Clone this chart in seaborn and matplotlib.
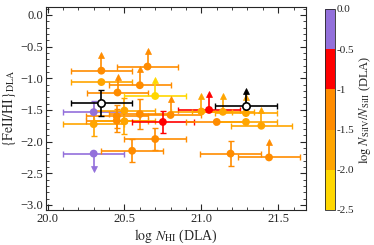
import numpy as np
import pandas as pd
import matplotlib
matplotlib.use("Agg")
import matplotlib.pyplot as plt
import seaborn as sns
from matplotlib.colors import ListedColormap, BoundaryNorm
from matplotlib.ticker import MultipleLocator
import matplotlib.colorbar as mcolorbar

# ---- data ----
log_nhi = [20.35, 20.65, 20.35, 20.60, 20.455, 20.70, 20.30, 20.30, 20.55, 20.70,
           21.19, 21.44, 20.30, 20.45, 20.50, 20.45, 20.50, 20.60, 20.80, 20.75,
           21.05, 21.00, 21.14, 21.10, 21.29, 21.29, 21.39]
feh = [-0.88, -0.815, -1.06, -1.11, -1.225, -1.28, -1.535, -2.19, -2.145, -1.96,
       -2.19, -2.25, -1.725, -1.60, -1.51, -1.67, -1.68, -1.565, -1.58, -1.69,
       -1.50, -1.525, -1.53, -1.69, -1.55, -1.69, -1.75]
xerr = [0.2] * len(log_nhi)
yerr = [0.25, 0.25, 0.0, 0.25, 0.25, 0.25, 0.18, 0.25, 0.18, 0.18,
        0.2, 0.25, 0.19, 0.18, 0.2, 0.18, 0.2, 0.23, 0.25, 0.18,
        0.25, 0.25, 0.25, 0.0, 0.25, 0.0, 0.25]
limit = ["up", "up", "", "up", "up", "up", "", "down", "", "",
         "", "up", "", "", "", "", "", "", "up", "",
         "up", "up", "up", "", "up", "", "up"]
si_ratio = [-1.2, -1.2, -1.7, -1.2, -1.2, -2.2, -0.3, -0.3, -1.2, -1.2,
            -1.2, -1.2, -1.7, -1.2, -1.7, -1.2, -1.7, -1.2, -1.2, -0.7,
            -0.7, -1.7, -1.7, -1.2, -1.7, -1.7, -1.7]

# points without a Si ratio (open black symbols)
open_nhi = [20.35, 21.29]
open_feh = [-1.39, -1.445]
open_yerr = [0.2, 0.25]
open_limit = ["", "up"]

cbar_bounds = [-2.5, -2.0, -1.5, -1.0, -0.5, 0.0]
cbar_labels = ["-2.5", "-2.0", "-1.5", "-1", "-0.5", "0.0"]
cbar_colors = ["#FFD700", "#FFA500", "#FF8C00", "#FF0000", "#9370DB"]

# ---- style ----
sns.set_style("ticks")
plt.rcParams["font.family"] = ["Liberation Serif", "DejaVu Serif"]
plt.rcParams["mathtext.fontset"] = "stix"
plt.rcParams["axes.unicode_minus"] = True

cmap = ListedColormap(cbar_colors)
norm = BoundaryNorm(cbar_bounds, cmap.N)

df = pd.DataFrame({"x": log_nhi, "y": feh, "xerr": xerr, "yerr": yerr,
                   "lim": limit, "si": si_ratio})
df["color"] = [matplotlib.colors.to_hex(cmap(norm(v))) for v in df["si"]]

fig = plt.figure(figsize=(3.74, 2.45), dpi=100)
ax = fig.add_axes([0.123, 0.143, 0.695, 0.827])

LW = 1.2
CAP = 2.2


def draw_point(axh, x, y, xe, ye, lim, color, z):
    # horizontal error bar with caps
    axh.errorbar(x, y, xerr=xe, fmt="none", ecolor=color, elinewidth=LW,
                 capsize=CAP, capthick=1.0, zorder=z)
    if ye <= 0:
        return
    if lim == "up":
        axh.errorbar(x, y, yerr=[[0], [ye]], fmt="none", ecolor=color,
                     elinewidth=LW, capsize=0, zorder=z)
        axh.plot([x], [y + ye], marker="^", ms=4.2, color=color,
                 mec=color, mew=0.5, zorder=z)
    elif lim == "down":
        axh.errorbar(x, y, yerr=[[ye], [0]], fmt="none", ecolor=color,
                     elinewidth=LW, capsize=0, zorder=z)
        axh.plot([x], [y - ye], marker="v", ms=4.2, color=color,
                 mec=color, mew=0.5, zorder=z)
    else:
        axh.errorbar(x, y, yerr=ye, fmt="none", ecolor=color, elinewidth=LW,
                     capsize=CAP, capthick=1.0, zorder=z)


for _, r in df.iterrows():
    draw_point(ax, r["x"], r["y"], r["xerr"], r["yerr"], r["lim"], r["color"], 2)

palette = {c: c for c in df["color"].unique()}
sns.scatterplot(data=df, x="x", y="y", hue="color", palette=palette,
                s=32, edgecolor="none", legend=False, ax=ax, zorder=3)

for xo, yo, ye, lim in zip(open_nhi, open_feh, open_yerr, open_limit):
    draw_point(ax, xo, yo, 0.2, ye, lim, "black", 4)
sns.scatterplot(x=open_nhi, y=open_feh, s=28, facecolor="white",
                edgecolor="black", linewidth=1.2, ax=ax, zorder=5)

ax.set_xlim(19.99, 21.68)
ax.set_ylim(-3.08, 0.12)
ax.xaxis.set_major_locator(MultipleLocator(0.5))
ax.xaxis.set_minor_locator(MultipleLocator(0.1))
ax.yaxis.set_major_locator(MultipleLocator(0.5))
ax.yaxis.set_minor_locator(MultipleLocator(0.1))
ax.tick_params(which="both", direction="in", top=True, right=True,
               labelsize=9, pad=2)
ax.tick_params(which="major", length=4, width=0.8)
ax.tick_params(which="minor", length=2, width=0.6)
for s in ax.spines.values():
    s.set_linewidth(0.8)
ax.set_xlabel(r"$\log\,N_{\rm HI}$ (DLA)", fontsize=10, labelpad=2)
ax.set_ylabel(r"$\{{\rm FeII/HI}\}_{\rm DLA}$", fontsize=10, labelpad=2)

cax = fig.add_axes([0.869, 0.143, 0.027, 0.821])
cb = mcolorbar.ColorbarBase(cax, cmap=cmap, norm=norm, boundaries=cbar_bounds,
                            ticks=cbar_bounds, spacing="proportional")
cb.ax.set_yticklabels(cbar_labels)
cb.ax.tick_params(labelsize=8, length=0, pad=1)
cb.outline.set_linewidth(0.6)
cb.set_label(r"$\log\,N_{\rm SiIV}/N_{\rm SiII}$ (DLA)", fontsize=9, labelpad=2)

fig.savefig("out.png", dpi=100)
